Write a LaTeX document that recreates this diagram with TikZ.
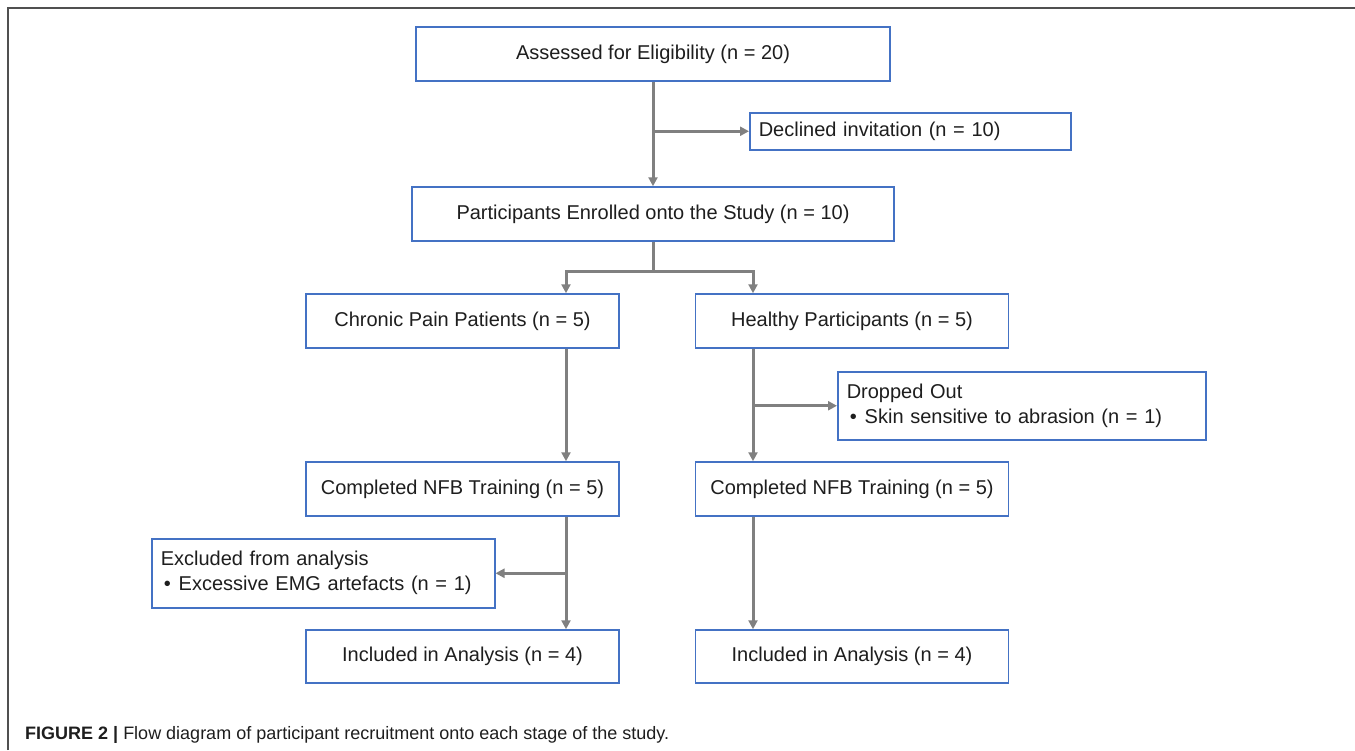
\documentclass[tikz,border=0pt]{standalone}
\usepackage{fontspec}
\setmainfont{Liberation Sans}
\usepackage{tikz}
\usetikzlibrary{arrows.meta,positioning}
\definecolor{boxblue}{RGB}{68,114,196}
\definecolor{flowgray}{RGB}{128,128,128}
\definecolor{framegray}{RGB}{80,80,80}
\definecolor{textdark}{RGB}{30,30,30}
\tikzset{
  stage/.style={draw=boxblue, line width=1.5pt, fill=white, text=textdark,
    font=\fontsize{20}{24}\selectfont, minimum width=313pt, minimum height=54pt, inner sep=0pt},
  sidebox/.style={draw=boxblue, line width=1.5pt, fill=white, text=textdark, anchor=north west,
    font=\fontsize{20}{25}\selectfont, align=left, inner xsep=9pt, inner ysep=0pt},
  flow/.style={draw=flowgray, line width=3pt, -{Triangle[length=9pt,width=9pt]}}
}
\begin{document}
\begin{tikzpicture}[x=1pt,y=-1pt]
\useasboundingbox (0,0) rectangle (1355,750);

% Frame
\draw[framegray, line width=2.5pt] (8,750) -- (8,8) -- (1355,8);

% Columns for the arrows
\coordinate (colL) at (566,0);
\coordinate (colR) at (753,0);
\coordinate (split) at (653,271);

% Boxes
\node[stage, minimum width=474pt] (assess) at (653,54) {Assessed for Eligibility (n = 20)};
\node[sidebox, text width=303pt, minimum height=37pt] (decline) at (749,112) {Declined invitation (n = 10)};
\node[stage, minimum width=482pt] (enrol) at (653,214) {Participants Enrolled onto the Study (n = 10)};
\node[stage] (chronic) at (462.5,321) {Chronic Pain Patients (n = 5)};
\node[stage] (healthy) at (852,321) {Healthy Participants (n = 5)};
\node[sidebox, text width=350pt, minimum height=68pt] (dropout) at (837,371)
  {Dropped Out\\\hspace{3pt}\textbullet\hspace{8pt}Skin sensitive to abrasion (n = 1)};
\node[stage] (compL) at (462.5,489) {Completed NFB Training (n = 5)};
\node[stage] (compR) at (852,489) {Completed NFB Training (n = 5)};
\node[sidebox, text width=325pt, minimum height=69pt] (exclude) at (151,538)
  {Excluded from analysis\\\hspace{3pt}\textbullet\hspace{8pt}Excessive EMG artefacts (n = 1)};
\node[stage, minimum height=53pt] (inclL) at (462.5,656.5) {Included in Analysis (n = 4)};
\node[stage, minimum height=53pt] (inclR) at (852,656.5) {Included in Analysis (n = 4)};

% Connectors
\draw[flow] (assess.south) -- (enrol.north);
\draw[flow] (assess.south |- decline.west) -- (decline.west);
\draw[flow] (enrol.south) |- (split -| colL) -- (chronic.north -| colL);
\draw[flow] (enrol.south) |- (split -| colR) -- (healthy.north -| colR);
\draw[flow] (chronic.south -| colL) -- (compL.north -| colL);
\draw[flow] (healthy.south -| colR) -- (compR.north -| colR);
\draw[flow] (colR |- dropout.west) -- (dropout.west);
\draw[flow] (compL.south -| colL) -- (inclL.north -| colL);
\draw[flow] (colL |- exclude.east) -- (exclude.east);
\draw[flow] (compR.south -| colR) -- (inclR.north -| colR);

% Caption
\node[anchor=base west, inner sep=0pt, text=textdark, font=\fontsize{18}{21}\selectfont] (caption) at (25,739)
  {\textbf{FIGURE 2 |} Flow diagram of participant recruitment onto each stage of the study.};
\end{tikzpicture}
\end{document}
